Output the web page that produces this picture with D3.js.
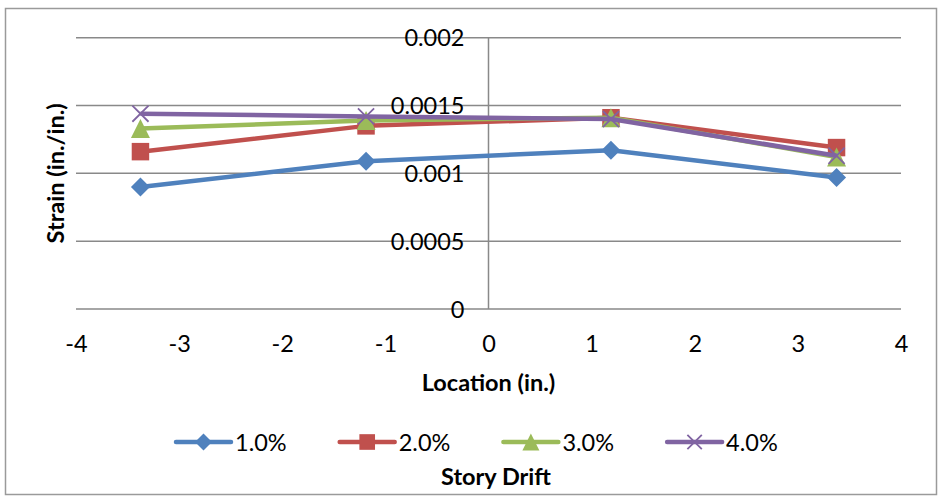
<!DOCTYPE html>
<html>
<head>
<meta charset="utf-8">
<script src="https://cdn.jsdelivr.net/npm/d3@7"></script>
<style>
  html, body { margin: 0; padding: 0; background: #fff; }
  svg { display: block; font-family: Lato, "Open Sans", "Liberation Sans", sans-serif; }
</style>
</head>
<body>
<svg id="chart" width="939" height="496"></svg>
<script>
// Gauge locations across the section (in.)
const locations = [-3.375, -1.1875, 1.1875, 3.375];

// Measured strain (in./in.) for each story drift level
const drift10 = [0.00090, 0.00109, 0.00117, 0.00097];
const drift20 = [0.00116, 0.00135, 0.00141, 0.00119];
const drift30 = [0.00133, 0.00139, 0.00141, 0.00112];
const drift40 = [0.00144, 0.00142, 0.00140, 0.00113];

const seriesNames = ["1.0%", "2.0%", "3.0%", "4.0%"];
const seriesColors = ["#4F81BD", "#C0504D", "#9BBB59", "#8064A2"];
const seriesMarkers = ["diamond", "square", "triangle", "cross"];

const xTicks = [-4, -3, -2, -1, 0, 1, 2, 3, 4];
const yTicks = [0, 0.0005, 0.001, 0.0015, 0.002];

const series = [drift10, drift20, drift30, drift40].map((vals, i) => ({
  name: seriesNames[i],
  color: seriesColors[i],
  marker: seriesMarkers[i],
  points: vals.map((v, j) => ({ x: locations[j], y: v }))
}));

const svg = d3.select("#chart");
const gridColor = "#898989";
const tickFont = 23.5;
const titleFont = 23.5;

// Outer chart frame
svg.append("rect")
  .attr("x", 5.5).attr("y", 8.5)
  .attr("width", 931).attr("height", 486)
  .attr("fill", "#fff")
  .attr("stroke", "#9a9a9a")
  .attr("stroke-width", 1.5);

const x = d3.scaleLinear().domain([-4, 4]).range([76, 901]);
const y = d3.scaleLinear().domain([0, 0.002]).range([309, 37.7]);

// Horizontal gridlines
svg.append("g")
  .selectAll("line")
  .data(yTicks)
  .join("line")
  .attr("x1", x(-4)).attr("x2", x(4))
  .attr("y1", d => y(d)).attr("y2", d => y(d))
  .attr("stroke", gridColor)
  .attr("stroke-width", 1.5);

// Vertical axis line crossing at x = 0
svg.append("line")
  .attr("x1", x(0)).attr("x2", x(0))
  .attr("y1", y(0.002)).attr("y2", y(0))
  .attr("stroke", gridColor)
  .attr("stroke-width", 1.5);

// Y tick labels, sitting just left of the zero axis
const yAxis = d3.axisLeft(y)
  .tickValues(yTicks)
  .tickFormat(d => String(d))
  .tickSize(0)
  .tickPadding(24);
const gy = svg.append("g")
  .attr("transform", `translate(${x(0)},0)`)
  .call(yAxis);
gy.select(".domain").remove();
gy.selectAll("text")
  .attr("font-size", tickFont)
  .attr("font-family", "Lato, 'Open Sans', sans-serif")
  .attr("fill", "#000")
  .attr("dy", "0.35em");

// X tick labels below the zero gridline
const xAxis = d3.axisBottom(x)
  .tickValues(xTicks)
  .tickFormat(d => String(d))
  .tickSize(0)
  .tickPadding(26);
const gx = svg.append("g")
  .attr("transform", `translate(0,${y(0)})`)
  .call(xAxis);
gx.select(".domain").remove();
gx.selectAll("text")
  .attr("font-size", tickFont)
  .attr("font-family", "Lato, 'Open Sans', sans-serif")
  .attr("fill", "#000");

// Axis titles
svg.append("text")
  .attr("x", x(0)).attr("y", 391)
  .attr("text-anchor", "middle")
  .attr("font-size", titleFont).attr("font-weight", "bold")
  .text("Location (in.)");

svg.append("text")
  .attr("transform", `translate(64,${(y(0) + y(0.002)) / 2}) rotate(-90)`)
  .attr("text-anchor", "middle")
  .attr("font-size", titleFont).attr("font-weight", "bold")
  .text("Strain (in./in.)");

// Marker shapes
function drawMarker(g, type, color, size) {
  const h = size / 2;
  if (type === "diamond") {
    g.append("path")
      .attr("d", `M0,${-h}L${h},0L0,${h}L${-h},0Z`)
      .attr("fill", color);
  } else if (type === "square") {
    const s = h * 0.92;
    g.append("rect")
      .attr("x", -s).attr("y", -s)
      .attr("width", 2 * s).attr("height", 2 * s)
      .attr("fill", color);
  } else if (type === "triangle") {
    g.append("path")
      .attr("d", `M0,${-h}L${h},${h}L${-h},${h}Z`)
      .attr("fill", color);
  } else if (type === "cross") {
    const c = h * 0.85;
    g.append("path")
      .attr("d", `M${-c},${-c}L${c},${c}M${-c},${c}L${c},${-c}`)
      .attr("stroke", color)
      .attr("stroke-width", 1.8)
      .attr("fill", "none");
  }
}

const line = d3.line().x(d => x(d.x)).y(d => y(d.y));

// Series lines with their markers
series.forEach(s => {
  const g = svg.append("g");
  g.append("path")
    .datum(s.points)
    .attr("d", line)
    .attr("fill", "none")
    .attr("stroke", s.color)
    .attr("stroke-width", 4.5)
    .attr("stroke-linejoin", "round");
  s.points.forEach(p => {
    const mg = g.append("g").attr("transform", `translate(${x(p.x)},${y(p.y)})`);
    drawMarker(mg, s.marker, s.color, 19);
  });
});

// Legend
const legendY = 442;
const legend = svg.append("g");
series.forEach((s, i) => {
  const x0 = 176 + i * 163.7;
  const item = legend.append("g").attr("transform", `translate(${x0},${legendY})`);
  item.append("line")
    .attr("x1", 0).attr("x2", 55)
    .attr("y1", 0).attr("y2", 0)
    .attr("stroke", s.color)
    .attr("stroke-width", 4.5)
    .attr("stroke-linecap", "round");
  const mg = item.append("g").attr("transform", "translate(27.5,0)");
  drawMarker(mg, s.marker, s.color, 17);
  item.append("text")
    .attr("x", 59).attr("y", 8.5)
    .attr("font-size", tickFont)
    .text(s.name);
});

svg.append("text")
  .attr("x", 496).attr("y", 485)
  .attr("text-anchor", "middle")
  .attr("font-size", titleFont).attr("font-weight", "bold")
  .text("Story Drift");
</script>
</body>
</html>
